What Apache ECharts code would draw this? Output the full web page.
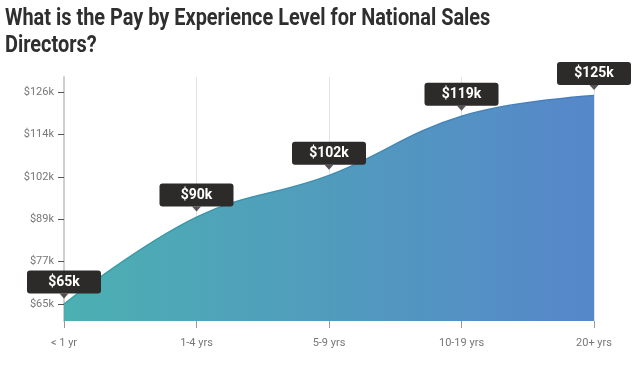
<!DOCTYPE html>
<html>
<head>
<meta charset="utf-8">
<script src="https://cdn.jsdelivr.net/npm/echarts@6/dist/echarts.min.js"></script>
<style>
html,body{margin:0;padding:0;background:#fff;}
#chart{width:644px;height:366px;}
</style>
</head>
<body>
<div id="chart"></div>
<script>
const titleText = "What is the Pay by Experience Level for National Sales\nDirectors?";
const categories = ["< 1 yr", "1-4 yrs", "5-9 yrs", "10-19 yrs", "20+ yrs"];
const payValues = [65, 90, 102, 119, 125];
const yTickValues = [65, 77.2, 89.4, 101.6, 113.8, 126];

const chart = echarts.init(document.getElementById('chart'), null, {renderer: 'canvas'});
chart.setOption({
  animation: false,
  graphic: [{
    type: 'text',
    left: 5, top: 5,
    scaleX: 0.83, scaleY: 1,
    originX: 0, originY: 0,
    style: {
      text: titleText,
      fontFamily: 'Roboto', fontWeight: 'bold', fontSize: 24, lineHeight: 27,
      fill: '#2f2f2f'
    }
  }],
  grid: {left: 64, right: 50, top: 77, bottom: 45},
  xAxis: {
    type: 'category',
    data: categories,
    boundaryGap: false,
    axisLine: {show: false},
    axisTick: {show: true, length: 7, lineStyle: {color: '#999'}},
    axisLabel: {color: '#777', fontFamily: 'Roboto', fontSize: 11, margin: 17},
    splitLine: {show: true, lineStyle: {color: '#e2e2e2', width: 1}}
  },
  yAxis: {
    type: 'value',
    min: 60.1, max: 130.3,
    axisLine: {show: true, lineStyle: {color: '#cfcfcf', width: 2}},
    axisTick: {show: true, length: 6, customValues: yTickValues, lineStyle: {color: '#555'}},
    axisLabel: {show: true, customValues: yTickValues, color: '#777', fontFamily: 'Roboto', fontSize: 11, margin: 10,
      formatter: v => '$' + Math.round(v) + 'k'},
    splitLine: {show: false}
  },
  series: [
    {
      type: 'line',
      data: payValues,
      smooth: 0.4,
      symbol: 'circle',
      symbolSize: 1,
      showSymbol: true,
      itemStyle: {color: 'rgba(0,0,0,0)'},
      z: 2,
      lineStyle: {width: 1.5, color: {type: 'linear', x: 0, y: 0, x2: 1, y2: 0,
        colorStops: [{offset: 0, color: '#3a9ea3'}, {offset: 1, color: '#4a7bc0'}]}},
      areaStyle: {opacity: 0.97, color: {type: 'linear', x: 0, y: 0, x2: 1, y2: 0,
        colorStops: [{offset: 0, color: '#46adaf'}, {offset: 1, color: '#5083c7'}]}},
      label: {
        show: true, position: 'top', distance: 10,
        formatter: p => '$' + p.value + 'k',
        color: '#fff', fontFamily: 'Roboto', fontWeight: 'bold', fontSize: 14, lineHeight: 16,
        backgroundColor: '#2d2a2a', borderRadius: 3, padding: [4, 0, 3, 0], width: 74, align: 'center'
      }
    },
    {
      type: 'scatter',
      data: payValues,
      symbol: 'triangle',
      symbolRotate: 180,
      symbolSize: [9, 5],
      symbolOffset: [0, -8],
      itemStyle: {color: '#2d2a2a'},
      z: 5,
      silent: true
    }
  ]
});
</script>
</body>
</html>
